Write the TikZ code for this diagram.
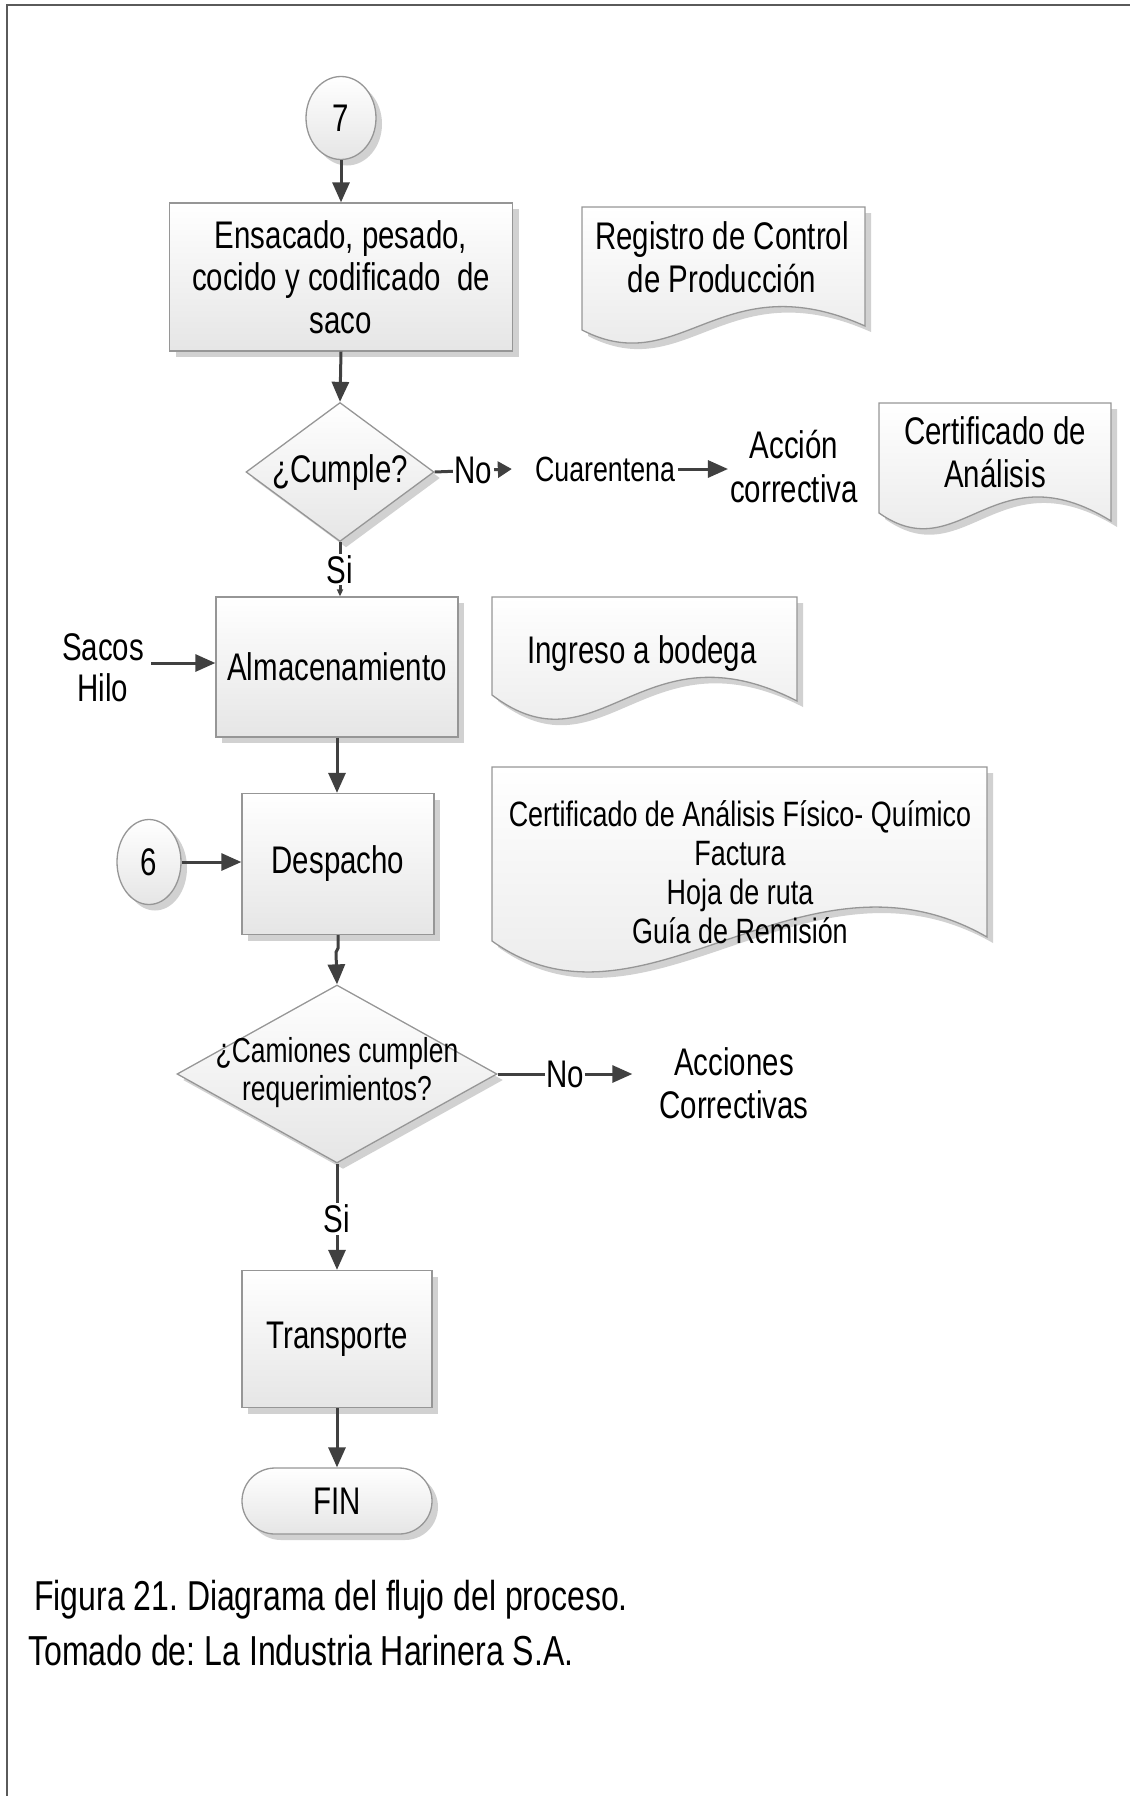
\documentclass[tikz,border=0pt]{standalone}
\usepackage{fontspec}
\setmainfont{Liberation Sans}[FakeStretch=0.765]
\usetikzlibrary{shapes.geometric,shapes.misc,arrows.meta,shadows}
\definecolor{linec}{HTML}{404040}
\definecolor{edgec}{HTML}{969696}
\definecolor{framec}{HTML}{5A5A5A}
\frenchspacing
\begin{document}
\begin{tikzpicture}[x=1pt,y=-1pt,
  every node/.style={font=\fontsize{38.5}{42.5}\selectfont, align=center, inner sep=0pt, text=black},
  shp/.style={draw=edgec, line width=1.3pt, top color=white, bottom color=black!10,
    drop shadow={shadow xshift=6pt, shadow yshift=-6pt, fill=black!40, opacity=0.45}},
  procbox/.style={shp, rectangle},
  decision/.style={shp, diamond},
  conn/.style={shp, ellipse},
  term/.style={shp, rounded rectangle},
  flow/.style={draw=linec, line width=3pt, -{Triangle[length=20pt,width=17pt]}},
  lbl/.style={fill=white, inner sep=1.5pt},
]
\useasboundingbox (0,0) rectangle (1130,1796);
\draw[framec, line width=2.5pt] (7,1796) -- (7,5) -- (1130,5);

% shapes
\node[conn, minimum width=70pt, minimum height=83pt] (c7) at (341,118) {7};
\node[procbox, minimum width=343pt, minimum height=148pt] (b1) at (341,277) {Ensacado, pesado,\\cocido y codificado\ \ de\\saco};

\path[shp] (582,207) -- (865,207) -- (865,326) .. controls (721,262) and (681,381) .. (582,330) -- cycle;
\node (reg) at (722,257) {Registro de Control\\de Producción};

\node[decision, minimum width=188pt, minimum height=139pt] (d1) at (340,472) {};
\node (d1t) at (340,473) {¿Cumple?};
\node[font=\fontsize{35}{40}\selectfont] (cuar) at (605,469) {Cuarentena};
\node[font=\fontsize{38.5}{44}\selectfont] (acc) at (794,467) {Acción\\correctiva};

\path[shp] (879,403) -- (1111,403) -- (1111,521) .. controls (993,448) and (960,570) .. (879,513) -- cycle;
\node (cert) at (995,452) {Certificado de\\Análisis};

\node[procbox, minimum width=242pt, minimum height=140pt] (alm) at (337,667) {Almacenamiento};
\path[shp] (492,597) -- (797,597) -- (797,701) .. controls (641,621) and (599,776) .. (492,695) -- cycle;
\node (ing) at (642,654) {Ingreso a bodega};
\node[font=\fontsize{38.5}{41}\selectfont] (sacos) at (103,668) {Sacos\\Hilo};
\coordinate (sin) at (151,663);

\node[procbox, minimum width=192pt, minimum height=141pt] (desp) at (338,864) {Despacho};
\node[conn, minimum width=64pt, minimum height=85pt] (c6) at (149,862) {6};
\path[shp] (492,767) -- (987,767) -- (987,937) .. controls (802,831) and (643,1049) .. (492,941) -- cycle;
\node[font=\fontsize{35.2}{39}\selectfont] (bigt) at (740,872) {Certificado de Análisis Físico- Químico\\Factura\\Hoja de ruta\\Guía de Remisión};

\node[decision, minimum width=320pt, minimum height=178pt] (d2) at (337,1074) {};
\node[font=\fontsize{34.6}{38}\selectfont] (d2t) at (337,1073) {¿Camiones cumplen\\requerimientos?};
\node[font=\fontsize{38.5}{43.5}\selectfont] (accs) at (734,1083) {Acciones\\Correctivas};

\node[procbox, minimum width=190pt, minimum height=137pt] (tr) at (337,1339) {Transporte};
\node[term, minimum width=190pt, minimum height=66pt] (fin) at (337,1501) {FIN};

\node[anchor=base west, font=\fontsize{41.8}{45}\selectfont] (cap1) at (34,1610) {Figura 21. Diagrama del flujo del proceso.};
\node[anchor=base west, font=\fontsize{41.9}{45}\selectfont] (cap2) at (28,1665) {Tomado de: La Industria Harinera S.A.};

% connectors
\draw[flow] (c7.south) -- (b1.north);
\draw[flow] (b1.south) -- (d1.north);
\draw[flow, -{Triangle[length=14pt,width=16pt]}] (d1.east) -- ([xshift=-23pt]cuar.west) node[lbl, pos=0.5] {No};
\draw[flow, shorten <=3pt, shorten >=2pt] (cuar.east) -- (cuar.east -| acc.west);
\draw[flow, -{Triangle[length=7pt,width=6pt]}] (d1.south) -- (d1.south |- alm.north) node[lbl, pos=0.5] {Si};
\draw[flow] (sin) -- (sin -| alm.west);
\draw[flow] (alm.south) -- (alm.south |- desp.north);
\draw[flow] (c6.east) -- (c6.east -| desp.west);
\draw[flow] (desp.south) -- ++(0,13) -- ++(-2,4) -- (d2.north);
\draw[flow] (d2.east) -- ([xshift=-27pt]d2.east -| accs.west) node[lbl, pos=0.5] {No};
\draw[flow] (d2.south) -- (d2.south |- tr.north) node[lbl, pos=0.52] {Si};
\draw[flow] (tr.south) -- (fin.north);
\end{tikzpicture}
\end{document}
